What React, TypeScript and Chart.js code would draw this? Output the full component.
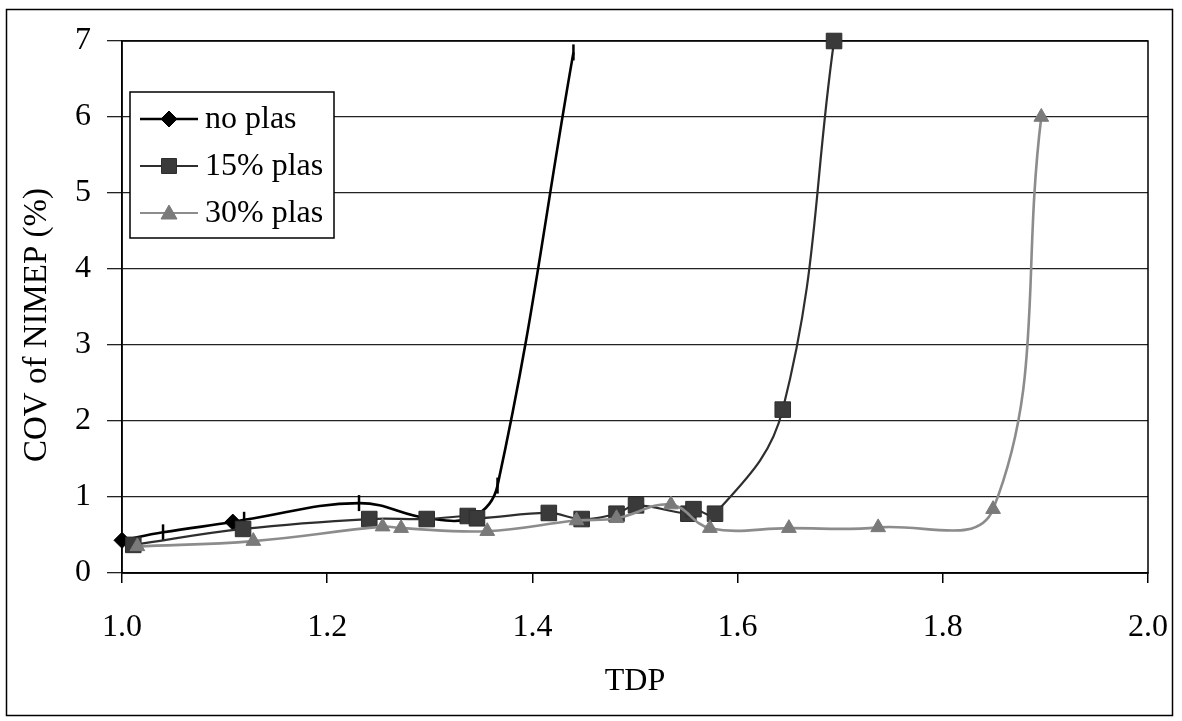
import React, { useEffect, useRef } from "react";
import { Chart, registerables } from "chart.js";

Chart.register(...registerables);

// ---------- data ----------
const xTickValues = [1.0, 1.2, 1.4, 1.6, 1.8, 2.0];
const yTickValues = [0, 1, 2, 3, 4, 5, 6, 7];
const seriesLabels = ["no plas", "15% plas", "30% plas"];
const xTitle = "TDP";
const yTitle = "COV of NIMEP (%)";

const tdpNoPlas = [1.0, 1.04, 1.108, 1.119, 1.231, 1.298, 1.342, 1.366, 1.44];
const covNoPlas = [0.43, 0.535, 0.67, 0.7, 0.92, 0.72, 0.74, 1.15, 6.85];

const tdp15 = [1.011, 1.118, 1.241, 1.297, 1.337, 1.346, 1.416, 1.448, 1.482, 1.501, 1.552, 1.557, 1.578, 1.644, 1.694];
const cov15 = [0.37, 0.58, 0.71, 0.71, 0.75, 0.72, 0.79, 0.71, 0.78, 0.89, 0.78, 0.84, 0.78, 2.15, 7.0];

const tdp30 = [1.015, 1.128, 1.254, 1.272, 1.356, 1.443, 1.482, 1.535, 1.573, 1.65, 1.737, 1.849, 1.896];
const cov30 = [0.35, 0.42, 0.61, 0.59, 0.55, 0.69, 0.72, 0.9, 0.59, 0.59, 0.6, 0.84, 6.0];

// marker kinds for the "no plas" series: d = diamond, t = vertical tick, n = none
const noPlasMarkers = ["d", "t", "d", "t", "t", "n", "n", "t", "t"];

// ---------- styles ----------
const W = 1182;
const H = 721;
const FONT = "'Liberation Serif', 'Times New Roman', serif";
const TICK_SIZE = 32;
const C_NO = "#000000";
const C_15 = "#2e2e2e";
const C_15_FILL = "#3a3a3a";
const C_30 = "#8c8c8c";
const C_30_FILL = "#7a7a7a";

const CHART_LEFT = 122;
const CHART_TOP = 41;
const CHART_RIGHT = 1148;
const CHART_BOTTOM = 573;

function drawMarker(ctx: CanvasRenderingContext2D, kind: string, x: number, y: number, fill: string, stroke: string) {
  ctx.save();
  ctx.fillStyle = fill;
  ctx.strokeStyle = stroke;
  ctx.lineWidth = 1;
  ctx.beginPath();
  if (kind === "diamond") {
    const r = 8;
    ctx.moveTo(x, y - r);
    ctx.lineTo(x + r, y);
    ctx.lineTo(x, y + r);
    ctx.lineTo(x - r, y);
    ctx.closePath();
  } else if (kind === "square") {
    const s = 7.5;
    ctx.rect(x - s, y - s, 2 * s, 2 * s);
  } else if (kind === "triangle") {
    const r = 8;
    ctx.moveTo(x, y - r);
    ctx.lineTo(x + r, y + r * 0.75);
    ctx.lineTo(x - r, y + r * 0.75);
    ctx.closePath();
  }
  ctx.fill();
  ctx.stroke();
  ctx.restore();
}

const decorPlugin = {
  id: "decor",
  beforeDraw(chart: any) {
    const ctx = chart.ctx;
    ctx.save();
    ctx.fillStyle = "#ffffff";
    ctx.fillRect(0, 0, chart.width, chart.height);
    ctx.restore();
  },
  beforeDatasetsDraw(chart: any) {
    const { ctx, chartArea } = chart;
    ctx.save();
    ctx.strokeStyle = "#000";
    ctx.lineWidth = 1.5;
    ctx.strokeRect(chartArea.left, chartArea.top, chartArea.right - chartArea.left, chartArea.bottom - chartArea.top);
    ctx.restore();
  },
  afterDraw(chart: any) {
    const ctx = chart.ctx as CanvasRenderingContext2D;
    ctx.save();
    // outer frame
    ctx.strokeStyle = "#000";
    ctx.lineWidth = 1.5;
    ctx.strokeRect(6.5, 9.5, 1166, 706);

    // y-axis title
    ctx.save();
    ctx.translate(37, 325);
    ctx.rotate(-Math.PI / 2);
    ctx.fillStyle = "#000";
    ctx.font = `33px ${FONT}`;
    ctx.textAlign = "center";
    ctx.textBaseline = "middle";
    ctx.fillText(yTitle, 0, 0);
    ctx.restore();

    // legend
    const bx = 130, by = 92, bw = 204, bh = 146;
    ctx.fillStyle = "#fff";
    ctx.fillRect(bx, by, bw, bh);
    ctx.strokeStyle = "#000";
    ctx.lineWidth = 1.5;
    ctx.strokeRect(bx, by, bw, bh);
    const rows = [
      { y: 119, color: C_NO, width: 2.5, marker: "diamond", fill: C_NO, stroke: C_NO },
      { y: 166, color: C_15, width: 2.0, marker: "square", fill: C_15_FILL, stroke: C_15 },
      { y: 213, color: C_30, width: 2.2, marker: "triangle", fill: C_30_FILL, stroke: C_30_FILL },
    ];
    rows.forEach((r, i) => {
      ctx.strokeStyle = r.color;
      ctx.lineWidth = r.width;
      ctx.beginPath();
      ctx.moveTo(140, r.y);
      ctx.lineTo(198, r.y);
      ctx.stroke();
      drawMarker(ctx, r.marker, 169, r.y, r.fill, r.stroke);
      ctx.fillStyle = "#000";
      ctx.font = `32px ${FONT}`;
      ctx.textBaseline = "middle";
      ctx.textAlign = "left";
      ctx.fillText(seriesLabels[i], 205, r.y + 1);
    });
    ctx.restore();
  },
};

function toPoints(xs: number[], ys: number[]) {
  return xs.map((x, i) => ({ x, y: ys[i] }));
}

export default function App() {
  const canvasRef = useRef<HTMLCanvasElement | null>(null);

  useEffect(() => {
    const canvas = canvasRef.current;
    if (!canvas) return;
    const tickFont = { family: FONT, size: TICK_SIZE };

    const chart = new Chart(canvas, {
      type: "line",
      data: {
        datasets: [
          {
            label: seriesLabels[0],
            data: toPoints(tdpNoPlas, covNoPlas),
            borderColor: C_NO,
            borderWidth: 2.6,
            tension: 0.4,
            pointStyle: noPlasMarkers.map((m) => (m === "d" ? "rectRot" : "line")),
            pointRotation: noPlasMarkers.map((m) => (m === "t" ? 90 : 0)),
            pointRadius: noPlasMarkers.map((m) => (m === "n" ? 0 : 8)),
            pointBackgroundColor: C_NO,
            pointBorderColor: C_NO,
            pointBorderWidth: noPlasMarkers.map((m) => (m === "t" ? 2.5 : 1)),
            clip: false as any,
            order: 3,
          },
          {
            label: seriesLabels[1],
            data: toPoints(tdp15, cov15),
            borderColor: C_15,
            borderWidth: 2.2,
            tension: 0.4,
            pointStyle: "rect",
            pointRadius: 11,
            pointBackgroundColor: C_15_FILL,
            pointBorderColor: C_15,
            pointBorderWidth: 1,
            clip: false as any,
            order: 2,
          },
          {
            label: seriesLabels[2],
            data: toPoints(tdp30, cov30),
            borderColor: C_30,
            borderWidth: 2.6,
            tension: 0.4,
            pointStyle: "triangle",
            pointRadius: 8.5,
            pointBackgroundColor: C_30_FILL,
            pointBorderColor: C_30_FILL,
            pointBorderWidth: 1,
            clip: false as any,
            order: 1,
          },
        ],
      },
      options: {
        animation: false,
        responsive: false,
        devicePixelRatio: 1,
        layout: { padding: { left: 0, top: CHART_TOP, right: W - CHART_RIGHT, bottom: 0 } },
        plugins: {
          legend: { display: false },
          tooltip: { enabled: false },
        },
        scales: {
          x: {
            type: "linear",
            min: 1.0,
            max: 2.0,
            afterBuildTicks: (s: any) => {
              s.ticks = xTickValues.map((v) => ({ value: v }));
            },
            afterFit: (s: any) => {
              s.height = H - CHART_BOTTOM;
              s.paddingLeft = 0;
              s.paddingRight = 0;
            },
            ticks: {
              callback: (v: any) => Number(v).toFixed(1),
              font: tickFont,
              color: "#000",
              padding: 25,
              maxRotation: 0,
              autoSkip: false,
            },
            grid: {
              drawOnChartArea: false,
              drawTicks: true,
              tickLength: 10,
              color: "#000",
              lineWidth: 1.5,
            },
            border: { display: true, color: "#000", width: 1.5 },
            title: {
              display: true,
              text: xTitle,
              font: tickFont,
              color: "#000",
              padding: { top: 0, bottom: 20 },
            },
          },
          y: {
            type: "linear",
            min: 0,
            max: 7,
            afterBuildTicks: (s: any) => {
              s.ticks = yTickValues.map((v) => ({ value: v }));
            },
            afterFit: (s: any) => {
              s.width = CHART_LEFT;
              s.paddingTop = 0;
              s.paddingBottom = 0;
            },
            ticks: {
              font: tickFont,
              color: "#000",
              padding: 16,
              autoSkip: false,
            },
            grid: {
              drawTicks: true,
              tickLength: 15,
              color: "#222",
              lineWidth: 1.3,
            },
            border: { display: true, color: "#000", width: 1.5 },
            title: { display: false },
          },
        },
      },
      plugins: [decorPlugin],
    } as any);

    return () => {
      chart.destroy();
    };
  }, []);

  return (
    <div style={{ position: "absolute", left: 0, top: 0, width: W, height: H, background: "#fff" }}>
      <canvas ref={canvasRef} width={W} height={H} style={{ display: "block", width: W, height: H }} />
    </div>
  );
}
